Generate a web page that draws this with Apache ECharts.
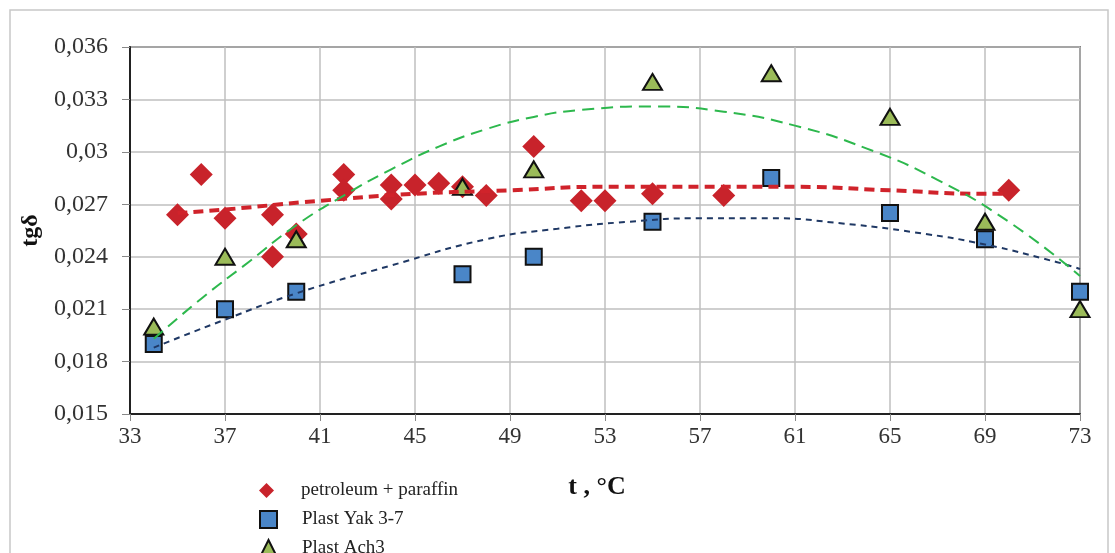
<!DOCTYPE html>
<html>
<head>
<meta charset="utf-8">
<script src="https://cdn.jsdelivr.net/npm/echarts@6/dist/echarts.min.js"></script>
<style>
  html, body { margin: 0; padding: 0; background: #fff; }
  #chart { width: 1115px; height: 553px; }
</style>
</head>
<body>
<div id="chart"></div>
<script>
// tick labels of the temperature axis
const tLabels = ['33', '37', '41', '45', '49', '53', '57', '61', '65', '69', '73'];

// petroleum + paraffin
const petT   = [35, 36, 37, 39, 39, 40, 42, 42, 44, 44, 45, 46, 47, 48, 50, 52, 53, 55, 58, 70];
const petVal = [0.0264, 0.0287, 0.0262, 0.0264, 0.0240, 0.0253, 0.0287, 0.0278, 0.0281, 0.0273,
                0.0281, 0.0282, 0.0280, 0.0275, 0.0303, 0.0272, 0.0272, 0.0276, 0.0275, 0.0278];

// Plast Yak 3-7
const yakT   = [34, 37, 40, 47, 50, 55, 60, 65, 69, 73];
const yakVal = [0.0190, 0.0210, 0.0220, 0.0230, 0.0240, 0.0260, 0.0285, 0.0265, 0.0250, 0.0220];

// Plast Ach3
const achT   = [34, 37, 40, 47, 50, 55, 60, 65, 69, 73];
const achVal = [0.0200, 0.0240, 0.0250, 0.0280, 0.0290, 0.0340, 0.0345, 0.0320, 0.0260, 0.0210];

// trend lines
const petTrendT   = [35, 37, 41, 45, 49, 53, 57, 61, 65, 69, 70];
const petTrendVal = [0.0265, 0.0267, 0.0272, 0.0276, 0.0278, 0.0280, 0.0280, 0.0280, 0.0278, 0.0276, 0.0276];

const yakTrendT   = [34, 37, 40, 44, 48, 51, 54, 57, 60, 63, 66, 69, 72, 73];
const yakTrendVal = [0.0188, 0.0204, 0.0219, 0.0235, 0.0250, 0.0256, 0.0260, 0.0262, 0.0262, 0.0259, 0.0254, 0.0247, 0.0237, 0.0233];

const achTrendT   = [34, 36, 38, 40, 42, 44, 46, 48, 50, 52, 55, 58, 61, 64, 67, 70, 73];
const achTrendVal = [0.0193, 0.0216, 0.0237, 0.0258, 0.0275, 0.0290, 0.0303, 0.0313, 0.0320, 0.0324, 0.0326, 0.0323, 0.0315, 0.0302, 0.0284, 0.0260, 0.0229];

const legendNames = ['petroleum + paraffin', 'Plast Yak 3-7', 'Plast Ach3'];
const legendIcons = ['diamond', 'rect', 'triangle'];

function pairs(xs, ys) {
  return xs.map((x, i) => [x, ys[i]]);
}

const serif = 'Liberation Serif';
let myChart = echarts.init(document.getElementById('chart'));

// one legend per entry so the list can run off the bottom like the original
let legends = legendNames.map((n, i) => ({
  orient: 'vertical',
  left: 254,
  top: 476 + i * 29,
  itemWidth: i === 0 ? 15 : 17,
  itemHeight: i === 0 ? 15 : 17,
  textStyle: { fontFamily: serif, fontSize: 19, color: '#222', padding: [0, 0, 0, i === 0 ? 22 : 20] },
  data: [{ name: n, icon: legendIcons[i] }]
}));

myChart.setOption({
  backgroundColor: '#fff',
  animation: false,
  graphic: [
    {
      type: 'rect',
      shape: { x: 10, y: 10, width: 1098, height: 600 },
      style: { fill: 'none', stroke: '#c8c8c8', lineWidth: 1.5 },
      silent: true
    }
  ],
  grid: {
    left: 130,
    right: 35,
    top: 47,
    bottom: 139,
    show: true,
    borderColor: '#222',
    borderWidth: 1.5
  },
  legend: legends,
  xAxis: [
    {
      type: 'value',
      min: 33,
      max: 73,
      show: false
    },
    {
      type: 'category',
      data: tLabels,
      boundaryGap: false,
      position: 'bottom',
      name: 't , °C',
      nameLocation: 'middle',
      nameGap: 60,
      nameTextStyle: {
        fontFamily: serif,
        fontSize: 26,
        fontWeight: 'bold',
        color: '#111',
        padding: [0, 16, 0, 0]
      },
      axisLine: { show: true, lineStyle: { color: '#222', width: 2 } },
      axisTick: { show: true, length: 7, lineStyle: { color: '#888' } },
      axisLabel: {
        fontFamily: serif,
        fontSize: 23,
        color: '#333',
        margin: 11
      },
      splitLine: { show: true, lineStyle: { color: '#bfbfbf', width: 1.5 } }
    }
  ],
  yAxis: {
    type: 'value',
    min: 0.015,
    max: 0.036,
    interval: 0.003,
    name: 'tgδ',
    nameLocation: 'middle',
    nameGap: 86,
    nameTextStyle: {
      fontFamily: serif,
      fontSize: 24,
      fontWeight: 'bold',
      color: '#111'
    },
    axisLine: { show: true, lineStyle: { color: '#222', width: 2 } },
    axisTick: { show: true, length: 8, lineStyle: { color: '#888' } },
    axisLabel: {
      fontFamily: serif,
      fontSize: 24,
      color: '#333',
      margin: 22,
      formatter: function (v) {
        return String(+v.toFixed(3)).replace('.', ',');
      }
    },
    splitLine: { show: true, lineStyle: { color: '#bfbfbf', width: 1.5 } }
  },
  series: [
    {
      name: 'petroleum + paraffin',
      type: 'scatter',
      xAxisIndex: 0,
      symbol: 'diamond',
      symbolSize: 23,
      itemStyle: { color: '#c8232b', opacity: 1 },
      data: pairs(petT, petVal)
    },
    {
      name: 'Plast Ach3',
      type: 'scatter',
      xAxisIndex: 0,
      symbol: 'triangle',
      symbolSize: [19, 16],
      itemStyle: { color: '#9bbb59', borderColor: '#111', borderWidth: 2, opacity: 1 },
      data: pairs(achT, achVal)
    },
    {
      name: 'Plast Yak 3-7',
      type: 'scatter',
      xAxisIndex: 0,
      symbol: 'rect',
      symbolSize: 16,
      itemStyle: { color: '#4a86c8', borderColor: '#111', borderWidth: 2, opacity: 1 },
      data: pairs(yakT, yakVal)
    },
    {
      name: 'petTrend',
      type: 'line',
      xAxisIndex: 0,
      smooth: true,
      showSymbol: false,
      silent: true,
      lineStyle: { color: '#d0232b', width: 4, type: [10, 6] },
      data: pairs(petTrendT, petTrendVal)
    },
    {
      name: 'yakTrend',
      type: 'line',
      xAxisIndex: 0,
      smooth: true,
      showSymbol: false,
      silent: true,
      lineStyle: { color: '#1f3864', width: 2, type: [6, 5] },
      data: pairs(yakTrendT, yakTrendVal)
    },
    {
      name: 'achTrend',
      type: 'line',
      xAxisIndex: 0,
      smooth: true,
      showSymbol: false,
      silent: true,
      lineStyle: { color: '#2db84d', width: 2, type: [12, 7] },
      data: pairs(achTrendT, achTrendVal)
    }
  ]
});
</script>
</body>
</html>
